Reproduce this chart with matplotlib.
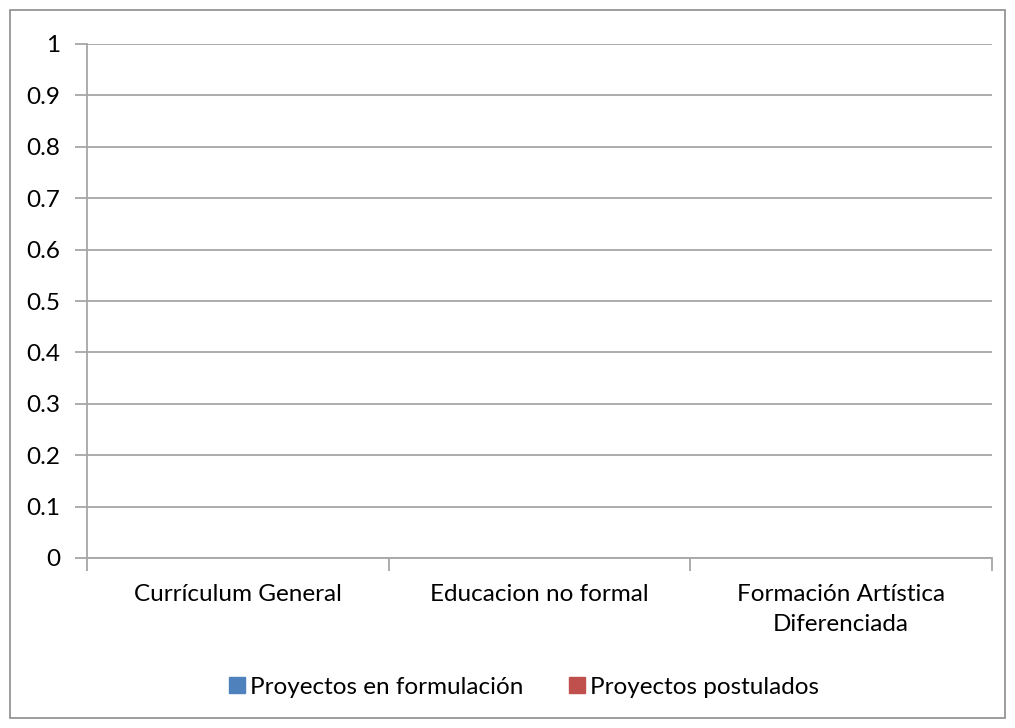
import matplotlib.pyplot as plt
import matplotlib.patches as mpatches
import numpy as np

plt.rcParams['font.family'] = ['Lato', 'DejaVu Sans']

categorias = ['Currículum General', 'Educacion no formal', 'Formación Artística\nDiferenciada']
series = ['Proyectos en formulación', 'Proyectos postulados']
valores_formulacion = [0, 0, 0]
valores_postulados = [0, 0, 0]
colores = ['#4f81bd', '#c0504d']
yticks = [0, 0.1, 0.2, 0.3, 0.4, 0.5, 0.6, 0.7, 0.8, 0.9, 1]
ylabels = ['0', '0.1', '0.2', '0.3', '0.4', '0.5', '0.6', '0.7', '0.8', '0.9', '1']

gris = '#a6a6a6'
tam = 17.5

fig = plt.figure(figsize=(10.15, 7.28), dpi=100)
fig.patch.set_facecolor('white')

# borde exterior del grafico
fig.add_artist(mpatches.Rectangle((10 / 1015, 10 / 728), 995 / 1015, 708 / 728,
                                  transform=fig.transFigure, fill=False,
                                  edgecolor='#8c8c8c', linewidth=1.2))

ax = fig.add_axes([87 / 1015, (728 - 558) / 728, 905 / 1015, 514 / 728])

x = np.arange(len(categorias))
ancho = 0.3
ax.bar(x - ancho / 2, valores_formulacion, ancho, color=colores[0], label=series[0])
ax.bar(x + ancho / 2, valores_postulados, ancho, color=colores[1], label=series[1])

ax.set_xlim(-0.5, len(categorias) - 0.5)
ax.set_ylim(0, 1)
ax.set_yticks(yticks)
ax.set_yticklabels(ylabels)
ax.yaxis.grid(True, color=gris, linewidth=1.3)
ax.set_axisbelow(True)

ax.set_xticks(x)
ax.set_xticklabels(categorias, linespacing=1.5)
ax.set_xticks(np.arange(len(categorias) + 1) - 0.5, minor=True)
ax.tick_params(axis='x', which='major', length=0, pad=19, labelsize=tam)
ax.tick_params(axis='x', which='minor', length=9, width=1.3, color=gris)
ax.tick_params(axis='y', length=9, width=1.3, color=gris, pad=10, labelsize=tam)

for s in ['top', 'right']:
    ax.spines[s].set_visible(False)
for s in ['left', 'bottom']:
    ax.spines[s].set_color(gris)
    ax.spines[s].set_linewidth(1.3)

handles = [mpatches.Patch(color=c, label=s) for c, s in zip(colores, series)]
fig.legend(handles=handles, loc='center', bbox_to_anchor=(524 / 1015, (728 - 687) / 728),
           ncol=2, frameon=False, fontsize=tam, handlelength=0.66, handleheight=0.66,
           handletextpad=0.2, columnspacing=1.9)

fig.savefig('out.png', dpi=100)
